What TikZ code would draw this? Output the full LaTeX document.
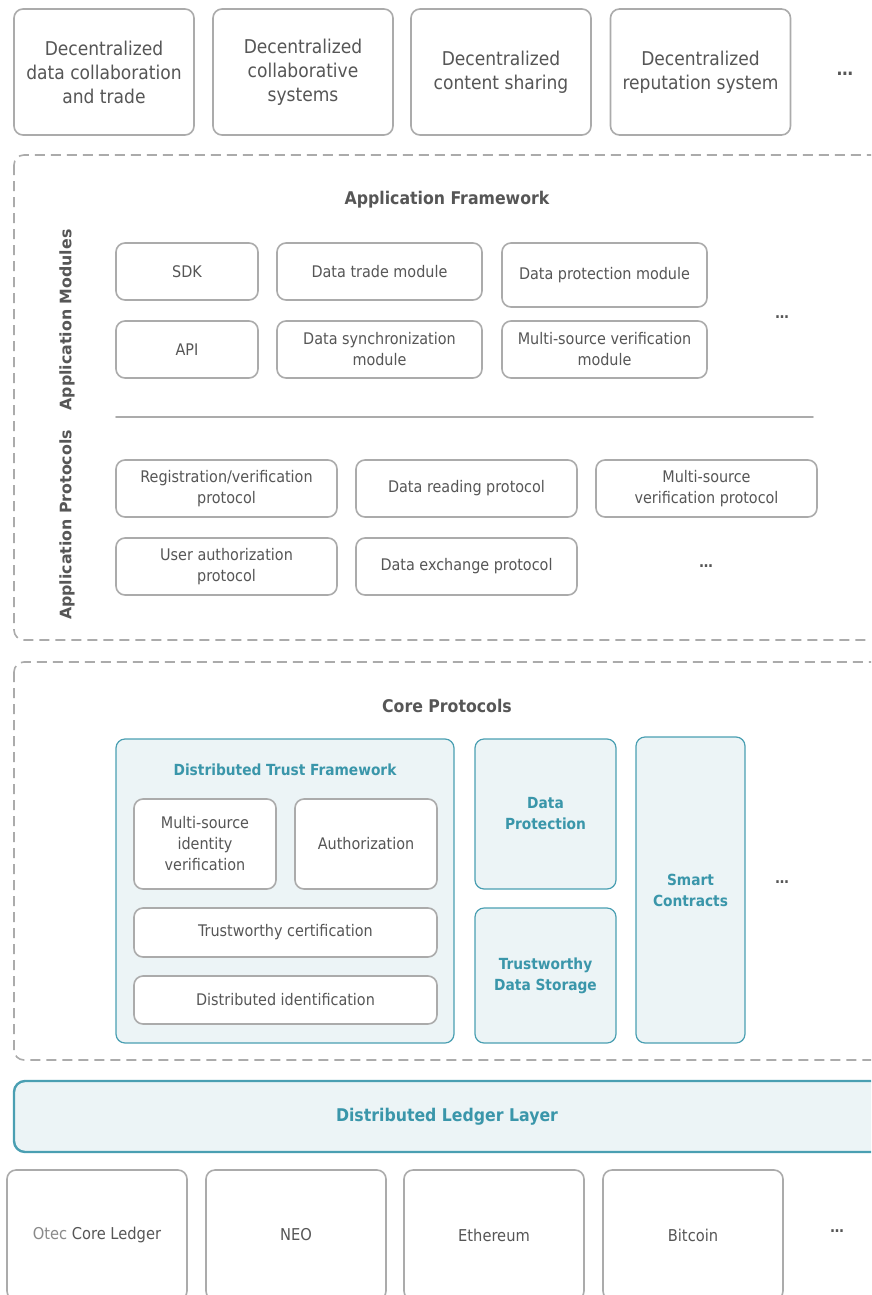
\documentclass[tikz,border=0pt]{standalone}
\usepackage{fontspec}
\setmainfont{DejaVu Sans Condensed}
\newfontfamily\widefont{DejaVu Sans}
\definecolor{boxgray}{HTML}{ABABAB}
\definecolor{txtgray}{HTML}{565656}
\definecolor{lightgray}{HTML}{8A8A8A}
\definecolor{tealtxt}{HTML}{3A96AA}
\definecolor{tealline}{HTML}{4A9FB2}
\definecolor{tealfill}{HTML}{ECF4F6}
\begin{document}
\begin{tikzpicture}[x=1pt,y=-1pt,line join=round,line cap=round,
	box/.style={draw=boxgray,line width=1.6pt,rounded corners=9pt,fill=white,text=txtgray,align=center,inner sep=0pt,outer sep=0pt},
	bigtxt/.style={font=\fontsize{19}{24}\selectfont},
	smalltxt/.style={font=\fontsize{16}{21}\selectfont},
	tealbox/.style={box,draw=tealline,line width=1.2pt,fill=tealfill,text=tealtxt,font=\bfseries\fontsize{15.3}{21}\selectfont},
	frame/.style={draw=boxgray,line width=1.6pt,dash pattern=on 10pt off 6pt,rounded corners=10pt,line cap=butt},
	heading/.style={text=txtgray,font=\bfseries\fontsize{17.5}{20}\selectfont},
	sidelabel/.style={text=txtgray,rotate=90,font=\widefont\bfseries\fontsize{15.8}{18}\selectfont},
	more/.style={text=txtgray,font=\bfseries\fontsize{15}{18}\selectfont}]
	\path[use as bounding box] (0,0) rectangle (871,1295);
	\clip (0,0) rectangle (871,1295);
	% applications on top
	\foreach \i/\x/\t in {1/104/{Decentralized\\data collaboration\\and trade},2/303/{Decentralized\\collaborative\\systems},3/501/{Decentralized\\content sharing},4/700.5/{Decentralized\\reputation system}}
	\node[box,bigtxt,minimum width=180,minimum height=126] (top\i) at (\x,72) {\t};
	\node[more,font=\bfseries\fontsize{18}{20}\selectfont] (topmore) at (845,74) {\ldots};
	% application framework
	\draw[frame] (14,155) rectangle (900,640);
	\node[heading] (apphead) at (447,200) {Application Framework};
	\node[sidelabel] (modlabel) at (67,320) {Application Modules};
	\node[sidelabel] (protlabel) at (67,525) {Application Protocols};
	\node[box,smalltxt,minimum width=142,minimum height=57] (sdk) at (187,271.5) {SDK};
	\node[box,smalltxt,minimum width=205,minimum height=57] (trade) at (379.5,271.5) {Data trade module};
	\node[box,smalltxt,minimum width=205,minimum height=64] (protect) at (604.5,275) {Data protection module};
	\node[box,smalltxt,minimum width=142,minimum height=57] (api) at (187,349.5) {API};
	\node[box,smalltxt,minimum width=205,minimum height=57] (sync) at (379.5,349.5) {Data synchronization\\module};
	\node[box,smalltxt,minimum width=205,minimum height=57] (msvmod) at (604.5,349.5) {Multi-source verification\\module};
	\node[more] (modmore) at (782,317) {\ldots};
	\coordinate (sepL) at (116,417);
	\coordinate (sepR) at (813,417);
	\draw[boxgray,line width=1.6pt] (sepL)--(sepR);
	\foreach \n/\x/\y/\t in {reg/226.5/488.5/{Registration/verification\\protocol},read/466.5/488.5/{Data reading protocol},msvprot/706.5/488.5/{Multi-source\\verification protocol},auth/226.5/566.5/{User authorization\\protocol},exch/466.5/566.5/{Data exchange protocol}}
	\node[box,smalltxt,minimum width=221,minimum height=57] (\n) at (\x,\y) {\t};
	\node[more] (protmore) at (706,566) {\ldots};
	% core protocols
	\draw[frame] (14,662) rectangle (900,1060);
	\node[heading] (corehead) at (447,706) {Core Protocols};
	\node[tealbox,minimum width=338,minimum height=304] (dtf) at (285,891) {};
	\node[text=tealtxt,font=\bfseries\fontsize{15.3}{19}\selectfont] (dtfhead) at (285,770) {Distributed Trust Framework};
	\node[box,smalltxt,minimum width=142,minimum height=90] (msiv) at (205,844) {Multi-source\\identity\\verification};
	\node[box,smalltxt,minimum width=142,minimum height=90] (authz) at (366,844) {Authorization};
	\node[box,smalltxt,minimum width=303,minimum height=49] (cert) at (285.5,932.5) {Trustworthy certification};
	\node[box,smalltxt,minimum width=303,minimum height=48] (ident) at (285.5,1000) {Distributed identification};
	\node[tealbox,minimum width=141,minimum height=150] (dprot) at (545.5,814) {Data\\Protection};
	\node[tealbox,minimum width=141,minimum height=135] (store) at (545.5,975.5) {Trustworthy\\Data Storage};
	\node[tealbox,minimum width=109,minimum height=306] (smart) at (690.5,890) {Smart\\Contracts};
	\node[more] (coremore) at (782,882) {\ldots};
	% ledger layer
	\node[tealbox,line width=2.4pt,rounded corners=11pt,minimum width=890,minimum height=71,anchor=west] (ledger) at (14,1116.5) {};
	\node[text=tealtxt,font=\bfseries\fontsize{17.5}{20}\selectfont] (ledgerhead) at (447,1116.5) {Distributed Ledger Layer};
	\foreach \i/\x/\t in {1/97/{{\color{lightgray}Otec} Core Ledger},2/296/{NEO},3/494/{Ethereum},4/693/{Bitcoin}}
	\node[box,font=\fontsize{16.3}{20}\selectfont,minimum width=180,minimum height=130] (chain\i) at (\x,1235) {\t};
	\node[more] (chainmore) at (837,1231) {\ldots};
\end{tikzpicture}
\end{document}
